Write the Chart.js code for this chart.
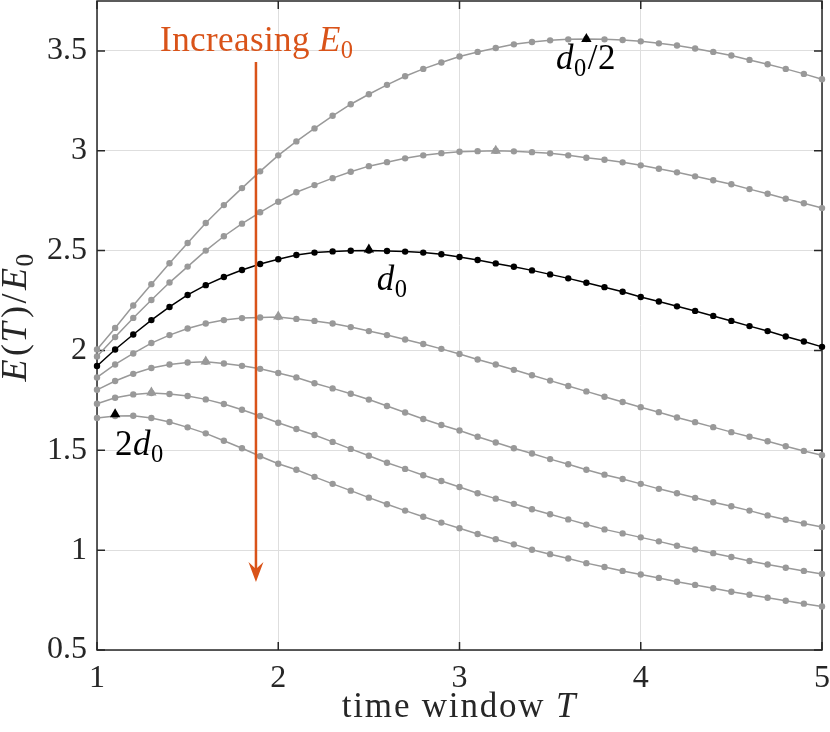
<!DOCTYPE html>
<html>
<head>
<meta charset="utf-8">
<title>E(T)/E0 vs time window T</title>
<script src="https://cdn.jsdelivr.net/npm/chart.js@4.4.1/dist/chart.umd.min.js"></script>
<style>
  html, body { margin: 0; padding: 0; background: #fff; }
  #wrap { width: 830px; height: 732px; }
</style>
</head>
<body>
<div id="wrap"><canvas id="chart" width="830" height="732"></canvas></div>
<script>
// time window T (one marker every 0.1)
var timeWindow = [1.0, 1.1, 1.2, 1.3, 1.4, 1.5, 1.6, 1.7, 1.8, 1.9,
                  2.0, 2.1, 2.2, 2.3, 2.4, 2.5, 2.6, 2.7, 2.8, 2.9,
                  3.0, 3.1, 3.2, 3.3, 3.4, 3.5, 3.6, 3.7, 3.8, 3.9,
                  4.0, 4.1, 4.2, 4.3, 4.4, 4.5, 4.6, 4.7, 4.8, 4.9, 5.0];

// E(T)/E0, one curve per distance, top (d0/2) to bottom (2d0)
var curveHalfD0 = [2.005, 2.113, 2.225, 2.332, 2.437, 2.538, 2.638, 2.728, 2.813, 2.897,
                   2.977, 3.047, 3.112, 3.175, 3.233, 3.283, 3.330, 3.373, 3.410, 3.442,
                   3.472, 3.495, 3.515, 3.533, 3.545, 3.553, 3.558, 3.560, 3.558, 3.555,
                   3.548, 3.538, 3.527, 3.512, 3.495, 3.477, 3.455, 3.433, 3.410, 3.385, 3.358];
var curve2 = [1.970, 2.067, 2.163, 2.253, 2.340, 2.420, 2.500, 2.572, 2.635, 2.692,
              2.745, 2.792, 2.828, 2.863, 2.895, 2.923, 2.943, 2.962, 2.977, 2.988,
              2.995, 2.998, 3.000, 2.997, 2.993, 2.987, 2.977, 2.965, 2.955, 2.942,
              2.927, 2.910, 2.892, 2.872, 2.852, 2.832, 2.808, 2.785, 2.760, 2.737, 2.713];
var curveD0 = [1.922, 2.005, 2.080, 2.152, 2.218, 2.278, 2.327, 2.368, 2.403, 2.433,
               2.457, 2.478, 2.490, 2.496, 2.499, 2.500, 2.498, 2.495, 2.490, 2.482,
               2.468, 2.453, 2.436, 2.419, 2.401, 2.381, 2.361, 2.339, 2.317, 2.294,
               2.268, 2.245, 2.221, 2.198, 2.173, 2.148, 2.122, 2.097, 2.070, 2.045, 2.018];
var curve4 = [1.865, 1.930, 1.985, 2.037, 2.077, 2.110, 2.135, 2.152, 2.162, 2.165,
              2.167, 2.158, 2.148, 2.135, 2.117, 2.097, 2.077, 2.055, 2.032, 2.008,
              1.982, 1.955, 1.930, 1.903, 1.876, 1.849, 1.822, 1.795, 1.768, 1.742,
              1.716, 1.691, 1.664, 1.641, 1.616, 1.591, 1.568, 1.545, 1.520, 1.497, 1.475];
var curve5 = [1.803, 1.847, 1.883, 1.912, 1.930, 1.940, 1.943, 1.935, 1.923, 1.908,
              1.887, 1.865, 1.836, 1.810, 1.783, 1.754, 1.722, 1.689, 1.657, 1.627,
              1.599, 1.568, 1.539, 1.510, 1.484, 1.456, 1.430, 1.403, 1.378, 1.356,
              1.332, 1.307, 1.285, 1.262, 1.240, 1.220, 1.198, 1.174, 1.152, 1.134, 1.116];
var curve6 = [1.733, 1.763, 1.780, 1.787, 1.782, 1.772, 1.755, 1.732, 1.703, 1.672,
              1.638, 1.607, 1.577, 1.542, 1.507, 1.473, 1.438, 1.407, 1.375, 1.346,
              1.316, 1.285, 1.258, 1.232, 1.205, 1.180, 1.154, 1.128, 1.104, 1.084,
              1.064, 1.044, 1.022, 1.003, 0.985, 0.966, 0.946, 0.928, 0.912, 0.896, 0.881];
var curve2D0 = [1.662, 1.672, 1.673, 1.662, 1.642, 1.615, 1.585, 1.548, 1.510, 1.470,
                1.433, 1.403, 1.367, 1.332, 1.298, 1.263, 1.230, 1.198, 1.167, 1.138,
                1.110, 1.081, 1.055, 1.029, 1.002, 0.980, 0.958, 0.935, 0.916, 0.896,
                0.878, 0.861, 0.842, 0.826, 0.809, 0.792, 0.777, 0.762, 0.747, 0.732, 0.718];

// maxima (triangles), same order as the curves
var peakT = [3.7, 3.2, 2.5, 2.0, 1.6, 1.3, 1.1];
var peakE = [3.56, 3.0, 2.505, 2.17, 1.945, 1.79, 1.68];
var peakColors = ['#000000', '#999999', '#000000', '#999999', '#999999', '#999999', '#000000'];

var xTicks = [1, 2, 3, 4, 5];
var yTicks = [0.5, 1, 1.5, 2, 2.5, 3, 3.5];

var GREY = '#999999';
var ORANGE = '#D95319';
var AXIS = '#262626';
var FONT = '"Liberation Serif", "Times New Roman", serif';
var TICK_LEN = 8;

function toPoints(ys) {
    return timeWindow.map(function (t, i) { return { x: t, y: ys[i] }; });
}

function curve(ys, color, order) {
    return {
        data: toPoints(ys),
        borderColor: color,
        backgroundColor: color,
        borderWidth: 1.5,
        pointRadius: 3.2,
        pointBorderWidth: 0,
        pointBackgroundColor: color,
        tension: 0,
        clip: 10,
        order: order
    };
}

// draw text pieces in a row (italic / subscript pieces for the math bits)
function richText(ctx, parts, x, y, size, color, align, spacing) {
    var fonts = [], widths = [], total = 0;
    ctx.save();
    ctx.letterSpacing = (spacing || 0) + 'px';
    parts.forEach(function (p) {
        var s = p.sub ? size * 0.7 : size;
        var f = (p.it ? 'italic ' : '') + s + 'px ' + FONT;
        ctx.font = f;
        var w = ctx.measureText(p.t).width + (p.gap || 0);
        fonts.push(f); widths.push(w); total += w;
    });
    var cx = align === 'center' ? x - total / 2 : x;
    ctx.fillStyle = color;
    ctx.textAlign = 'left';
    ctx.textBaseline = 'alphabetic';
    parts.forEach(function (p, i) {
        ctx.font = fonts[i];
        ctx.fillText(p.t, cx, p.sub ? y + size * 0.2 : y);
        cx += widths[i];
    });
    ctx.restore();
}

var overlay = {
    id: 'overlay',
    beforeDatasetsDraw: function (chart) {
        var ctx = chart.ctx, a = chart.chartArea;
        var xs = chart.scales.x, ys = chart.scales.y;
        ctx.save();
        ctx.strokeStyle = AXIS;
        ctx.lineWidth = 1.5;
        ctx.strokeRect(a.left, a.top, a.right - a.left, a.bottom - a.top);
        // ticks point inwards on all four sides (box on)
        ctx.beginPath();
        xTicks.forEach(function (v) {
            var px = xs.getPixelForValue(v);
            ctx.moveTo(px, a.bottom); ctx.lineTo(px, a.bottom - TICK_LEN);
            ctx.moveTo(px, a.top); ctx.lineTo(px, a.top + TICK_LEN);
        });
        yTicks.forEach(function (v) {
            var py = ys.getPixelForValue(v);
            ctx.moveTo(a.left, py); ctx.lineTo(a.left + TICK_LEN, py);
            ctx.moveTo(a.right, py); ctx.lineTo(a.right - TICK_LEN, py);
        });
        ctx.stroke();
        ctx.restore();
    },
    afterDatasetsDraw: function (chart) {
        var ctx = chart.ctx;
        var xs = chart.scales.x, ys = chart.scales.y;
        var px = function (v) { return xs.getPixelForValue(v); };
        var py = function (v) { return ys.getPixelForValue(v); };

        // "Increasing E0" arrow
        var ax = px(1.877), top = py(3.445), tip = py(0.84);
        ctx.save();
        ctx.strokeStyle = ORANGE;
        ctx.fillStyle = ORANGE;
        ctx.lineWidth = 2.5;
        ctx.beginPath();
        ctx.moveTo(ax, top);
        ctx.lineTo(ax, tip - 12);
        ctx.stroke();
        ctx.beginPath();
        ctx.moveTo(ax, tip);
        ctx.lineTo(ax - 7.5, tip - 20);
        ctx.lineTo(ax, tip - 13);
        ctx.lineTo(ax + 7.5, tip - 20);
        ctx.closePath();
        ctx.fill();
        ctx.restore();

        richText(ctx, [{ t: 'Increasing ' }, { t: 'E', it: true }, { t: '0', sub: true }],
                 px(1.348), py(3.5), 35, ORANGE, 'left', 0.4);
        richText(ctx, [{ t: 'd', it: true }, { t: '0', sub: true, gap: 1 }, { t: '/2' }],
                 px(3.532), py(3.41), 35, '#000', 'left', 0.5);
        richText(ctx, [{ t: 'd', it: true }, { t: '0', sub: true }],
                 px(2.543), py(2.305), 35, '#000', 'left', 0.5);
        richText(ctx, [{ t: '2' }, { t: 'd', it: true }, { t: '0', sub: true }],
                 px(1.099), py(1.475), 35, '#000', 'left', 0.5);
    },
    afterDraw: function (chart) {
        var ctx = chart.ctx, a = chart.chartArea;
        // x label
        richText(ctx, [{ t: 'time window ' }, { t: 'T', it: true }],
                 (a.left + a.right) / 2, 717, 35, AXIS, 'center', 1.8);
        // y label, rotated
        ctx.save();
        ctx.translate(26, 317);
        ctx.rotate(-Math.PI / 2);
        richText(ctx, [{ t: 'E', it: true, gap: 2 }, { t: '(' }, { t: 'T', it: true, gap: 3 }, { t: ')', gap: 1 },
                       { t: '/', gap: 2 }, { t: 'E', it: true }, { t: '0', sub: true }],
                 0, 0, 36, AXIS, 'center', 1.5);
        ctx.restore();
    }
};

var datasets = [
    {
        // triangles at the maxima, drawn on top
        data: peakT.map(function (t, i) { return { x: t, y: peakE[i] }; }),
        showLine: false,
        pointStyle: 'triangle',
        pointRadius: 6,
        pointBorderWidth: 0,
        pointBackgroundColor: peakColors,
        clip: 10,
        order: 0
    },
    curve(curveD0, '#000000', 1),
    curve(curveHalfD0, GREY, 2),
    curve(curve2, GREY, 2),
    curve(curve4, GREY, 2),
    curve(curve5, GREY, 2),
    curve(curve6, GREY, 2),
    curve(curve2D0, GREY, 2)
];

function stripPadding(scale) {
    scale.paddingLeft = 0;
    scale.paddingRight = 0;
    scale.paddingTop = 0;
    scale.paddingBottom = 0;
}

new Chart(document.getElementById('chart').getContext('2d'), {
    type: 'line',
    data: { datasets: datasets },
    plugins: [overlay],
    options: {
        responsive: false,
        animation: false,
        layout: { autoPadding: false, padding: { top: 1, right: 8, left: 0, bottom: 0 } },
        plugins: {
            legend: { display: false },
            tooltip: { enabled: false }
        },
        scales: {
            x: {
                type: 'linear',
                min: 1,
                max: 5,
                afterBuildTicks: function (scale) {
                    scale.ticks = xTicks.map(function (v) { return { value: v }; });
                },
                afterFit: function (scale) {
                    scale.height = 82;
                    stripPadding(scale);
                },
                grid: { color: '#dedede', lineWidth: 1, drawTicks: false },
                border: { display: false },
                ticks: {
                    padding: 9,
                    color: AXIS,
                    maxRotation: 0,
                    font: { family: FONT, size: 32 },
                    callback: function (v) { return String(v); }
                }
            },
            y: {
                type: 'linear',
                min: 0.5,
                max: 3.75,
                afterBuildTicks: function (scale) {
                    scale.ticks = yTicks.map(function (v) { return { value: v }; });
                },
                afterFit: function (scale) {
                    scale.width = 97;
                    stripPadding(scale);
                },
                grid: { color: '#dedede', lineWidth: 1, drawTicks: false },
                border: { display: false },
                ticks: {
                    padding: 10,
                    color: AXIS,
                    font: { family: FONT, size: 32 },
                    callback: function (v) { return String(v); }
                }
            }
        }
    }
});
</script>
</body>
</html>
